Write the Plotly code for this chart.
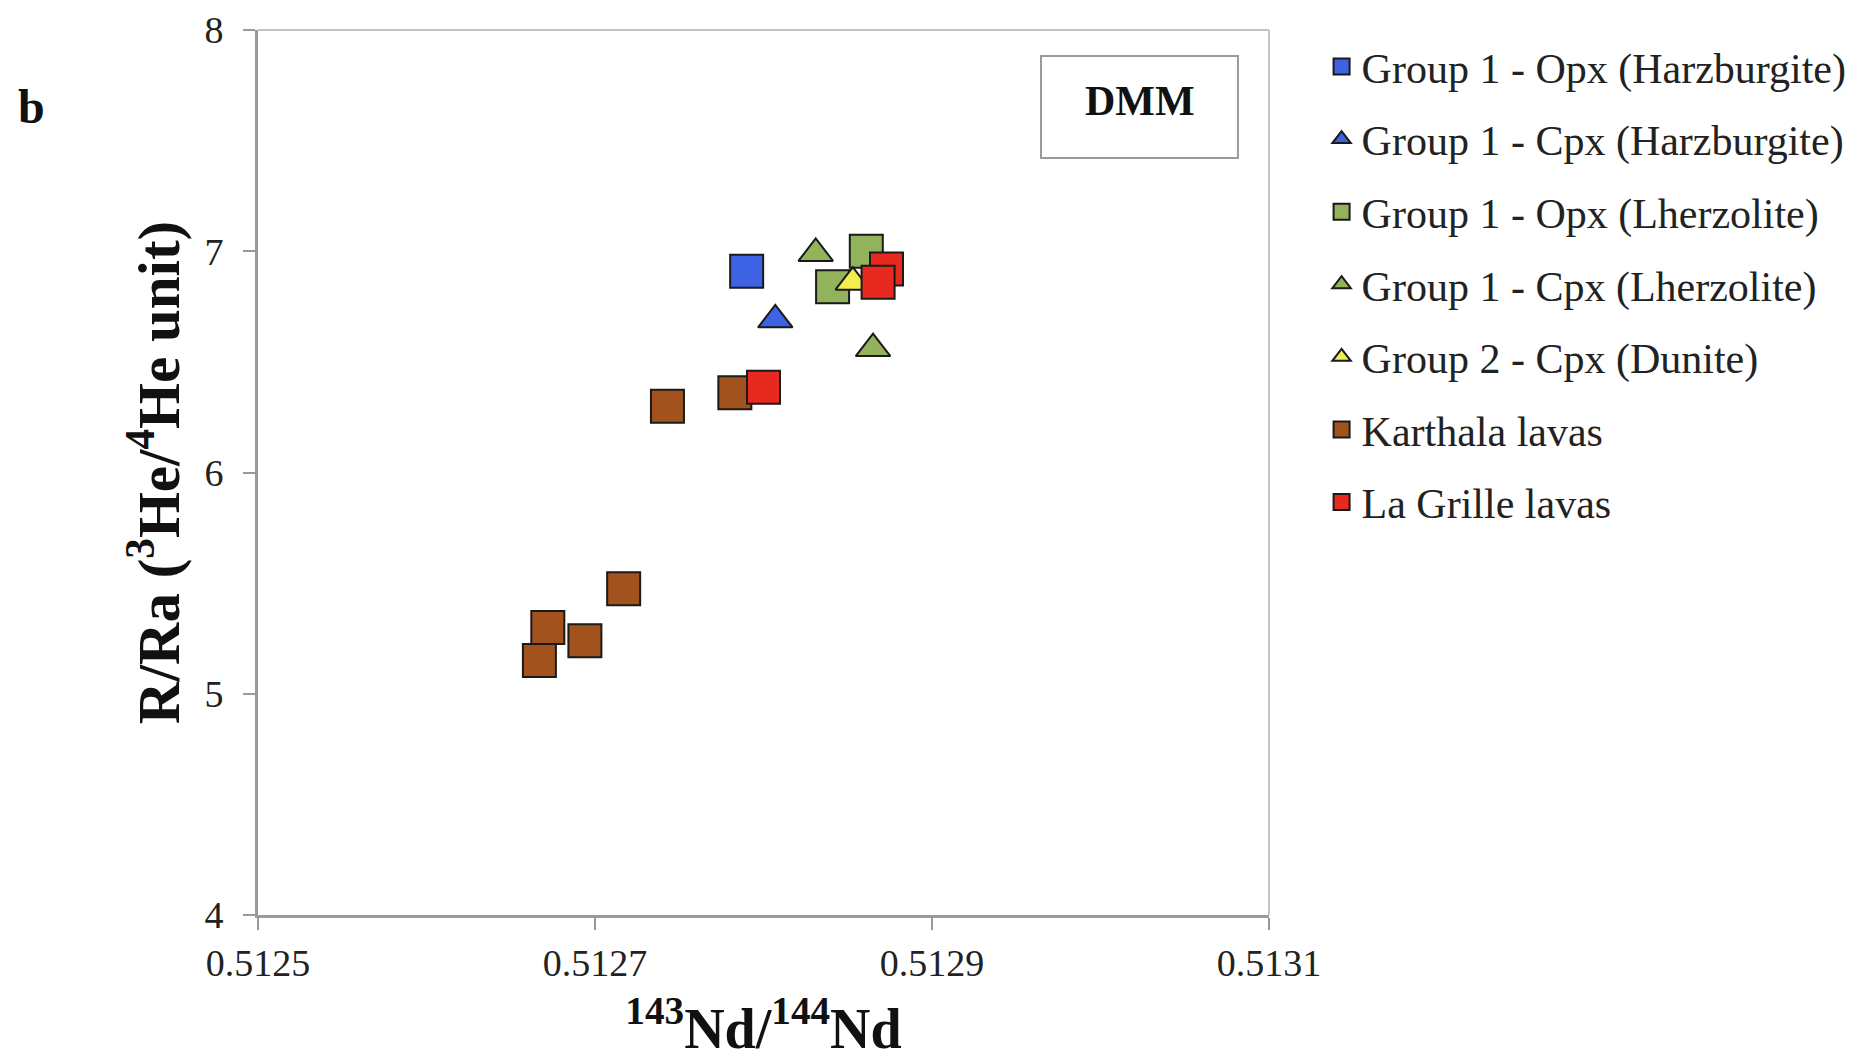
import plotly.graph_objects as go

# 143Nd/144Nd versus R/Ra for each sample group
opx_harz_nd = [0.51279]
opx_harz_rra = [6.91]

cpx_harz_nd = [0.512807]
cpx_harz_rra = [6.69]

opx_lherz_nd = [0.512861, 0.512841]
opx_lherz_rra = [7.00, 6.84]

cpx_lherz_nd = [0.512831, 0.512865]
cpx_lherz_rra = [6.99, 6.56]

cpx_dun_nd = [0.512853]
cpx_dun_rra = [6.86]

karthala_nd = [0.512743, 0.512783, 0.512717, 0.512672, 0.512694, 0.512667]
karthala_rra = [6.30, 6.36, 5.475, 5.30, 5.24, 5.15]

lagrille_nd = [0.512873, 0.512868, 0.512800]
lagrille_rra = [6.92, 6.86, 6.385]

x_ticks = [0.5125, 0.5127, 0.5129, 0.5131]
y_ticks = [4, 5, 6, 7, 8]

FONT = "Liberation Serif"

series = [
    ("Group 1 - Opx (Harzburgite)", opx_harz_nd, opx_harz_rra, "square", "#3d63e4"),
    ("Group 1 - Cpx (Harzburgite)", cpx_harz_nd, cpx_harz_rra, "triangle-up", "#3d63e4"),
    ("Group 1 - Opx (Lherzolite)", opx_lherz_nd, opx_lherz_rra, "square", "#92b25c"),
    ("Group 1 - Cpx (Lherzolite)", cpx_lherz_nd, cpx_lherz_rra, "triangle-up", "#92b25c"),
    ("Group 2 - Cpx (Dunite)", cpx_dun_nd, cpx_dun_rra, "triangle-up", "#f2ee4c"),
    ("Karthala lavas", karthala_nd, karthala_rra, "square", "#a2521c"),
    ("La Grille lavas", lagrille_nd, lagrille_rra, "square", "#e8291f"),
]

fig = go.Figure()
for i, (name, xs, ys, sym, col) in enumerate(series):
    size = 33 if sym == "square" else 30
    fig.add_trace(go.Scatter(
        x=xs, y=ys, mode="markers", name=name, legendgroup=f"g{i}",
        marker=dict(symbol=sym, size=size, color=col,
                    line=dict(color="#1a1a1a", width=2)),
    ))

fig.update_layout(
    width=1868, height=1060,
    margin=dict(l=258, r=599, t=30, b=145, autoexpand=False),
    paper_bgcolor="white", plot_bgcolor="white",
    font=dict(family=FONT, color="#222222"),
    showlegend=True,
    legend=dict(
        x=1.052, y=0.997, xanchor="left", yanchor="top",
        font=dict(family=FONT, size=42, color="#222222"),
        tracegroupgap=15, itemsizing="trace", itemwidth=30,
        bgcolor="rgba(0,0,0,0)",
    ),
    xaxis=dict(
        range=[0.5125, 0.5131], tickvals=x_ticks, tickformat=".4f",
        showgrid=False, zeroline=False,
        showline=True, linecolor="#9a9a9a", linewidth=3,
        ticks="outside", ticklen=12, tickcolor="#9a9a9a", tickwidth=2,
        tickfont=dict(family=FONT, size=38, color="#222222"),
        title=dict(text="<b><sup>143</sup>Nd/<sup>144</sup>Nd</b>",
                   font=dict(family=FONT, size=56, color="#111111"), standoff=32),
    ),
    yaxis=dict(
        range=[4, 8], tickvals=y_ticks,
        showgrid=False, zeroline=False,
        showline=True, linecolor="#9a9a9a", linewidth=3,
        ticks="outside", ticklen=12, tickcolor="#9a9a9a", tickwidth=2,
        ticklabelstandoff=12,
        tickfont=dict(family=FONT, size=38, color="#222222"),
        title=dict(text="<b>R/Ra (<sup>3</sup>He/<sup>4</sup>He unit)</b>",
                   font=dict(family=FONT, size=59, color="#111111"), standoff=6),
    ),
    shapes=[
        # thin top and right frame edges
        dict(type="line", xref="paper", yref="paper", x0=0, x1=1, y0=1, y1=1,
             line=dict(color="#b0b0b0", width=1.5)),
        dict(type="line", xref="paper", yref="paper", x0=1, x1=1, y0=0, y1=1,
             line=dict(color="#b0b0b0", width=1.5)),
        # DMM label frame
        dict(type="rect", xref="paper", yref="paper",
             x0=0.7745, x1=0.9693, y0=0.8554, y1=0.9706,
             line=dict(color="#9a9a9a", width=2), fillcolor="white"),
    ],
    annotations=[
        dict(text="<b>DMM</b>", xref="paper", yref="paper", x=0.872, y=0.9198,
             xanchor="center", yanchor="middle", showarrow=False,
             font=dict(family=FONT, size=42, color="#111111")),
        dict(text="<b>b</b>", xref="paper", yref="paper", x=-0.2245, y=0.913,
             xanchor="center", yanchor="middle", showarrow=False,
             font=dict(family=FONT, size=48, color="#111111")),
    ],
)

fig.write_html("out.html")
